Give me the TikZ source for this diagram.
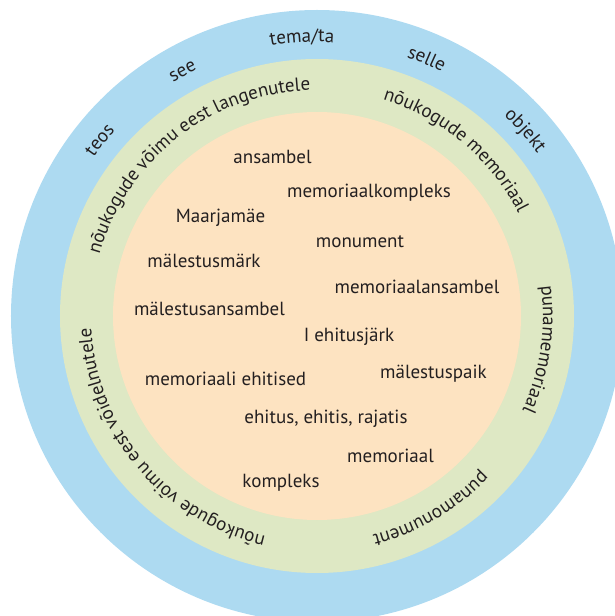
\documentclass[tikz,border=0pt]{standalone}
\usepackage{fontspec}
\setmainfont{PT Sans}
\usetikzlibrary{decorations.text}

\definecolor{outerblue}{RGB}{173,218,241}
\definecolor{middlegreen}{RGB}{222,232,196}
\definecolor{innerpeach}{RGB}{253,227,193}
\definecolor{wordgray}{RGB}{35,31,32}
\newcommand{\wordfont}{\fontsize{19}{22}\selectfont}

\begin{document}
\begin{tikzpicture}[
    x=1pt, y=1pt,
    word/.style={
      % plain text on the inner disc
      inner sep=0pt,
      anchor=base,
      text=wordgray,
      font=\wordfont,
    },
    ringword/.style={
      % text bent along a clockwise arc
      decorate,
      decoration={text along path, text align=center,
        text color=wordgray, text={|\wordfont|#1}},
    }]

    \useasboundingbox (-317,-300) rectangle (297,316);

    % The rings:
    \fill[outerblue] (0,0) circle[radius=306];
    \fill[middlegreen] (0,0) circle[radius=257];
    \fill[innerpeach] (0,0) circle[radius=204];

    % Outer ring
    \path[ringword={teos}] (181:274) arc[start angle=181, end angle=101, radius=274];
    \path[ringword={see}] (158.8:274) arc[start angle=158.8, end angle=78.8, radius=274];
    \path[ringword={tema/ta}] (133.1:274) arc[start angle=133.1, end angle=53.1, radius=274];
    \path[ringword={selle}] (106.9:274) arc[start angle=106.9, end angle=26.9, radius=274];
    \path[ringword={objekt}] (81.7:274) arc[start angle=81.7, end angle=1.7, radius=274];

    % Middle ring
    \path[ringword={nõukogude võimu eest langenutele}]
      (188:226) arc[start angle=188, end angle=68, radius=226];
    \path[ringword={nõukogude memoriaal}]
      (100:226) arc[start angle=100, end angle=0, radius=226];
    \path[ringword={punamemoriaal}]
      (30:226) arc[start angle=30, end angle=-47, radius=226];
    \path[ringword={punamonument}]
      (-20:226) arc[start angle=-20, end angle=-99, radius=226];
    \path[ringword={nõukogude võimu eest võidelnutele}]
      (-80:226) arc[start angle=-80, end angle=-200, radius=226];

    % Inner disc
    \node[word] (ansambel) at (-44.5,152) {ansambel};
    \node[word] (memkompleks) at (52,118) {memoriaalkompleks};
    \node[word] (maarjamae) at (-96.5,93) {Maarjamäe};
    \node[word] (monument) at (43,68) {monument};
    \node[word] (malmark) at (-113,48) {mälestusmärk};
    \node[word] (memansambel) at (100,22) {memoriaalansambel};
    \node[word] (malansambel) at (-107.5,0) {mälestusansambel};
    \node[word] (ehitusjark) at (32,-26) {I ehitusjärk};
    \node[word] (malpaik) at (116.5,-62) {mälestuspaik};
    \node[word] (memehitised) at (-91.5,-69) {memoriaali ehitised};
    \node[word] (ehitus) at (9,-107) {ehitus, ehitis, rajatis};
    \node[word] (memoriaal) at (73.5,-146) {memoriaal};
    \node[word] (kompleks) at (-36,-171) {kompleks};
  \end{tikzpicture}
\end{document}
